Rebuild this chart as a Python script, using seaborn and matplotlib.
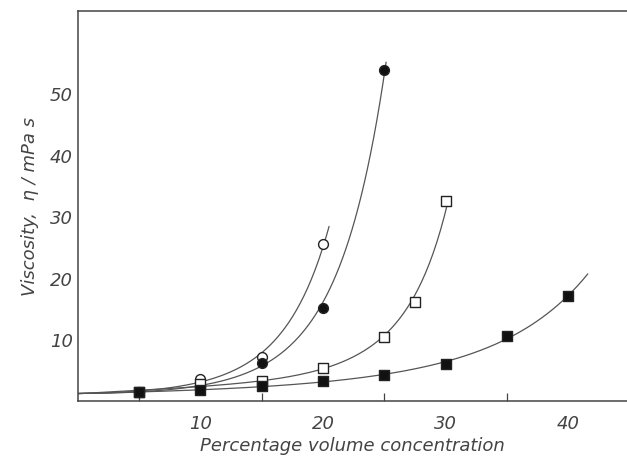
import numpy as np
import pandas as pd
import matplotlib
matplotlib.use('Agg')
import matplotlib.pyplot as plt
import seaborn as sns

# Values
series_names = ['open circle', 'filled circle', 'open square', 'filled square']
conc_open_circle = [5, 10, 15, 20]
visc_open_circle = [1.5, 3.5, 7.2, 25.5]
conc_filled_circle = [5, 10, 15, 20, 25]
visc_filled_circle = [1.5, 2.4, 6.2, 15.1, 53.8]
conc_open_square = [5, 10, 15, 20, 25, 27.5, 30]
visc_open_square = [1.5, 2.7, 3.2, 5.4, 10.4, 16.1, 32.5]
conc_filled_square = [5, 10, 15, 20, 25, 30, 35, 40]
visc_filled_square = [1.4, 1.8, 2.4, 3.3, 4.2, 6.0, 10.6, 17.0]

# solvent viscosity at zero concentration, and where each drawn curve stops
visc_solvent = 1.25
curve_end = [20.5, 25.15, 30.2, 41.6]

x_ticks = [10, 20, 30, 40]
y_ticks = [10, 20, 30, 40, 50]

conc = [conc_open_circle, conc_filled_circle, conc_open_square, conc_filled_square]
visc = [visc_open_circle, visc_filled_circle, visc_open_square, visc_filled_square]

points = pd.concat([pd.DataFrame({'conc': c, 'visc': v, 'series': n})
                    for c, v, n in zip(conc, visc, series_names)])

# smooth curves: cubic fit of log(viscosity) through the measured points
curves = []
for c, v, n, end in zip(conc, visc, series_names, curve_end):
    xs = np.r_[0, c]
    ys = np.log(np.r_[visc_solvent, v])
    coef = np.polyfit(xs, ys, 3)
    xx = np.linspace(0, end, 200)
    curves.append(pd.DataFrame({'conc': xx, 'visc': np.exp(np.polyval(coef, xx)), 'series': n}))
curves = pd.concat(curves)

sns.set_style('white')
plt.rcParams['font.family'] = ['DejaVu Sans']
ink = '#444444'

fig = plt.figure(figsize=(6.27, 4.6), dpi=100)
ax = fig.add_axes([0.124, 0.126, 0.876, 0.848])

sns.lineplot(data=curves, x='conc', y='visc', units='series', estimator=None,
             color='#555555', lw=0.9, ax=ax, sort=False)

styles = {
    'open circle': dict(marker='o', facecolor='white'),
    'filled circle': dict(marker='o', facecolor='#111111'),
    'open square': dict(marker='s', facecolor='white'),
    'filled square': dict(marker='s', facecolor='#111111'),
}
for n in series_names:
    sns.scatterplot(data=points[points.series == n], x='conc', y='visc',
                    marker=styles[n]['marker'], color=styles[n]['facecolor'],
                    edgecolor='#222222', linewidth=1.0, s=50, ax=ax, zorder=3)

ax.set_xlim(0, 44.8)
ax.set_ylim(0, 63.3)
ax.set_xticks(x_ticks)
ax.set_xticks([5, 15, 25, 35], minor=True)
ax.set_yticks(y_ticks)
ax.tick_params(axis='both', direction='in', length=6, width=0.9, color=ink,
               labelsize=13, labelcolor=ink)
ax.tick_params(axis='x', which='minor', direction='in', length=6, width=0.9,
               color=ink, bottom=True)
ax.tick_params(axis='x', pad=9)
for lab in ax.get_xticklabels() + ax.get_yticklabels():
    lab.set_fontstyle('italic')

for side in ['left', 'bottom', 'top']:
    ax.spines[side].set_color(ink)
    ax.spines[side].set_linewidth(1.1)
ax.spines['right'].set_visible(False)

ax.set_xlabel('Percentage volume concentration', fontsize=13, fontstyle='italic',
              color=ink, labelpad=3)
ax.set_ylabel('Viscosity,  η / mPa s', fontsize=13, fontstyle='italic',
              color=ink, labelpad=8)

plt.savefig('out.png', dpi=100)
